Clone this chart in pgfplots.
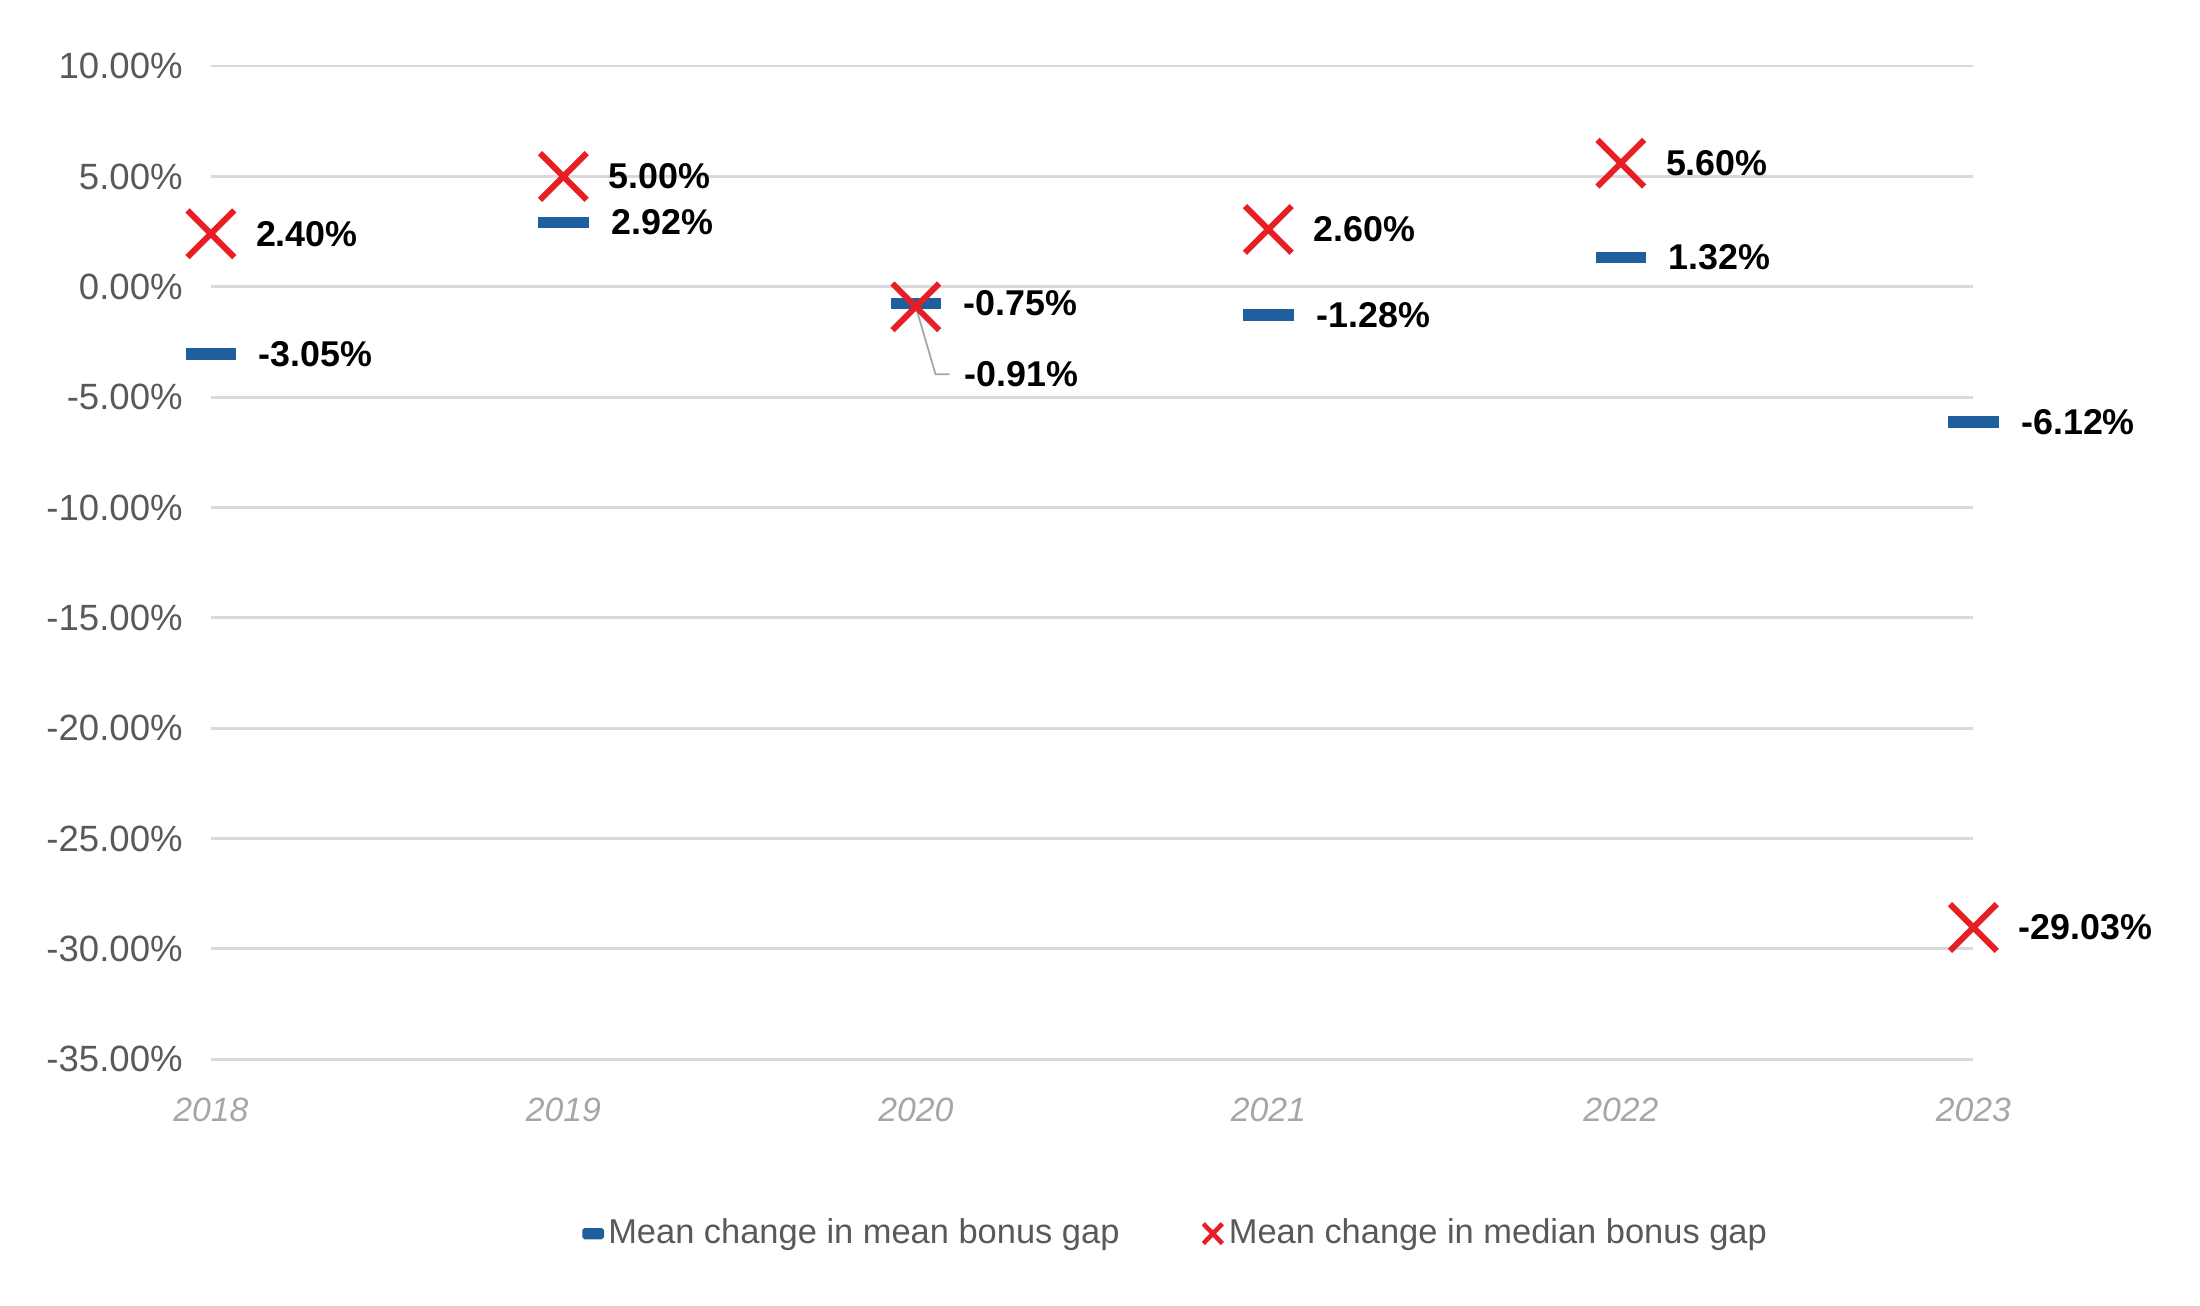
\documentclass[border=0pt]{standalone}
\usepackage{fontspec}
\setmainfont{Liberation Sans}
\usepackage{pgfplots}
\usepackage{pgfplotstable}
\pgfplotsset{compat=1.18}

\definecolor{meanblue}{RGB}{31,95,158}
\definecolor{medred}{RGB}{232,30,37}
\definecolor{tickgray}{RGB}{89,89,89}
\definecolor{yeargray}{RGB}{166,166,166}
\definecolor{gridgray}{RGB}{217,217,217}

\newcommand\labfont{\fontsize{10.4}{12}\selectfont}

% mean change in mean bonus gap
\pgfplotstableread{
x y
0 -3.05
1 2.92
2 -0.75
3 -1.28
4 1.32
5 -6.12
}\meangap

% mean change in median bonus gap (2020 labelled separately, with leader line)
\pgfplotstableread{
x y
0 2.40
1 5.00
3 2.60
4 5.60
5 -29.03
}\mediangap
\pgfplotstableread{
x y
2 -0.91
}\mediangapB

\begin{document}
\begin{tikzpicture}
\begin{axis}[
    name=ax,
    scale only axis,
    width=501.5pt, height=282.6pt,
    xmin=0, xmax=5, ymin=-35, ymax=10,
    clip=false,
    axis line style={draw=none},
    major tick length=0pt,
    xtick={0,1,2,3,4,5},
    xticklabels={2018,2019,2020,2021,2022,2023},
    ytick={-35,-30,-25,-20,-15,-10,-5,0,5,10},
    yticklabels={-35.00\%,-30.00\%,-25.00\%,-20.00\%,-15.00\%,-10.00\%,-5.00\%,0.00\%,5.00\%,10.00\%},
    ymajorgrids,
    grid style={gridgray, line width=0.8pt},
    yticklabel style={font=\labfont, text=tickgray, anchor=east, xshift=-4.5pt},
    xticklabel style={font=\fontsize{9.6}{12}\selectfont\itshape, text=yeargray, yshift=-7.6pt},
    point meta=explicit symbolic,
    nodes near coords={\pgfplotspointmeta\%},
    every node near coord/.append style={font=\fontsize{10.2}{12}\selectfont\bfseries, text=black,
        anchor=west, inner sep=0pt, xshift=12pt, yshift=0pt},
    legend style={at={(0.548,-0.1756)}, anchor=center, draw=none, fill=none,
        font=\fontsize{9.8}{12}\selectfont, text=tickgray, legend columns=2, inner sep=0pt,
        nodes={inner sep=1.2pt},
        /tikz/every even column/.append style={column sep=22pt}},
]
\addplot[only marks, mark=-, mark size=7.2pt,
    mark options={draw=meanblue, line width=3.3pt},
    legend image code/.code={\fill[meanblue, rounded corners=0.5pt] (0pt,-1.4pt) rectangle (5.8pt,1.4pt);}]
    table[x=x, y=y, meta=y] {\meangap};
\addlegendentry{Mean change in mean bonus gap}

\draw[yeargray, line width=0.5pt] (axis cs:2,-0.91) -- ++(5.6pt,-19.2pt) -- ++(4pt,0pt);

\addplot[only marks, mark=x, mark size=9.4pt,
    mark options={draw=medred, line width=1.7pt},
    legend image code/.code={\draw[medred, line width=1.3pt] (0.2pt,-2.8pt) -- (5.6pt,2.8pt) (0.2pt,2.8pt) -- (5.6pt,-2.8pt);}]
    table[x=x, y=y, meta=y] {\mediangap};
\addlegendentry{Mean change in median bonus gap}

\addplot[only marks, mark=x, mark size=9.4pt, forget plot,
    mark options={draw=medred, line width=1.7pt},
    every node near coord/.append style={xshift=1pt, yshift=-19.2pt}]
    table[x=x, y=y, meta=y] {\mediangapB};
\end{axis}
\path (ax.south west) ++(-60pt,-70.05pt) rectangle ++(626pt,371.45pt);
\end{tikzpicture}
\end{document}
